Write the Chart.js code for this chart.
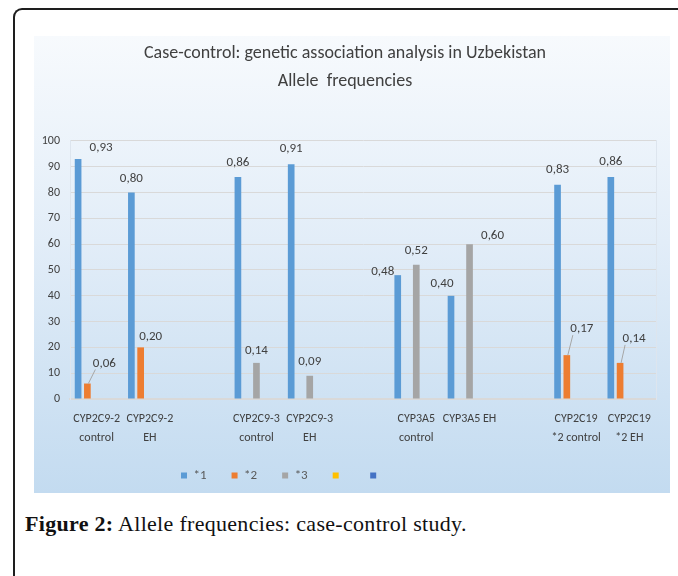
<!DOCTYPE html>
<html>
<head>
<meta charset="utf-8">
<script src="https://cdn.jsdelivr.net/npm/chart.js@4.4.1/dist/chart.umd.min.js"></script>
<style>
  html, body { margin: 0; padding: 0; background: #fff; }
  body { width: 678px; height: 576px; position: relative; overflow: hidden; }
  .frame {
    position: absolute; left: 13px; top: 8px; right: -20px; bottom: -20px;
    border-top: 2px solid #1e1e1e; border-left: 2px solid #1e1e1e;
    border-top-left-radius: 9px;
  }
  .panel {
    position: absolute; left: 34px; top: 36px; width: 636px; height: 457px;
    background: linear-gradient(to bottom, #f7fafd 0%, #e2edf8 45%, #c3dbf0 100%);
  }
  .caption {
    position: absolute; left: 25px; top: 510px;
    font-family: "Liberation Serif", "DejaVu Serif", serif;
    font-size: 22px; line-height: 28px; color: #111; letter-spacing: 0.3px;
  }
  .caption b { font-weight: bold; }
</style>
</head>
<body>
<div class="frame"></div>
<div class="panel"><canvas id="allele-chart" width="636" height="457"></canvas></div>
<div class="caption"><b>Figure 2:</b> Allele frequencies: case-control study.</div>
<script>
const categories = [
  ["CYP2C9-2", "control"], ["CYP2C9-2", "EH"], "",
  ["CYP2C9-3", "control"], ["CYP2C9-3", "EH"], "",
  ["CYP3A5", "control"], ["CYP3A5 EH"], "",
  ["CYP2C19", "*2 control"], ["CYP2C19", "*2 EH"]
];
const seriesNames = ["*1", "*2", "*3", "", ""];
const allele1 = [93, 80, null, 86, 91, null, 48, 40, null, 83, 86];
const allele2 = [6, 20, null, null, null, null, null, null, null, 17, 14];
const allele3 = [null, null, null, 14, 9, null, 52, 60, null, null, null];
const allele4 = [null, null, null, null, null, null, null, null, null, null, null];
const allele5 = [null, null, null, null, null, null, null, null, null, null, null];
const yTicks = [0, 10, 20, 30, 40, 50, 60, 70, 80, 90, 100];

const colors = ["#5b9bd5", "#ed7d31", "#a5a5a5", "#ffc000", "#4472c4"];
const fontFamily = "Carlito, 'Liberation Sans Narrow', 'Open Sans', sans-serif";

// label nudges (dx, dy from bar top), leader lines where Excel drew them
const labelNudge = {
  "0:0": [23, -11], "1:0": [17, -20, true],
  "0:1": [0, -14], "1:1": [10, -11],
  "0:3": [0, -14], "2:3": [0, -12],
  "0:4": [0, -15], "2:4": [0, -14],
  "0:6": [-15, -3], "2:6": [0, -14],
  "0:7": [-9, -12], "2:7": [23, -8],
  "0:9": [0, -15], "1:9": [15, -26, true],
  "0:10": [0, -15], "1:10": [14, -24, true]
};

const valueLabels = {
  id: "valueLabels",
  afterDatasetsDraw(chart) {
    const ctx = chart.ctx;
    ctx.save();
    ctx.font = "13px " + fontFamily;
    ctx.fillStyle = "#404040";
    ctx.textAlign = "center";
    ctx.textBaseline = "middle";
    chart.data.datasets.forEach((ds, di) => {
      chart.getDatasetMeta(di).data.forEach((bar, i) => {
        const v = ds.data[i];
        if (v == null) return;
        const n = labelNudge[di + ":" + i] || [0, -14];
        const lx = bar.x + n[0], ly = bar.y + n[1];
        if (n[2]) {
          ctx.strokeStyle = "#a6a6a6";
          ctx.lineWidth = 1;
          ctx.beginPath();
          ctx.moveTo(lx - 9, ly + 6);
          ctx.lineTo(bar.x + 1, bar.y);
          ctx.stroke();
        }
        ctx.fillText((v / 100).toFixed(2).replace(".", ","), lx, ly);
      });
    });
    ctx.restore();
  }
};

// Excel put the legend left of centre
const legendPad = 25;
const legendShift = {
  id: "legendShift",
  afterLayout(chart) {
    const lg = chart.legend;
    const dx = 147 - legendPad - lg.left;
    lg.left += dx;
    lg.right += dx;
  }
};

Chart.defaults.font.family = fontFamily;
Chart.defaults.color = "#404040";

const seriesData = [allele1, allele2, allele3, allele4, allele5];

new Chart(document.getElementById("allele-chart"), {
  type: "bar",
  data: {
    labels: categories,
    datasets: seriesData.map((d, k) => ({
      label: seriesNames[k],
      data: d,
      backgroundColor: colors[k],
      borderWidth: 0,
      barPercentage: 0.72,
      categoryPercentage: 0.87
    }))
  },
  options: {
    responsive: false,
    animation: false,
    layout: { padding: { left: 0, right: 14, top: 0, bottom: 1 } },
    plugins: {
      title: {
        display: true,
        text: ["Case-control: genetic association analysis in Uzbekistan", "Allele  frequencies"],
        color: "#404040",
        font: { size: 18, weight: "normal", lineHeight: 1.555 },
        padding: { top: 4, bottom: 45 }
      },
      legend: {
        position: "bottom",
        align: "start",
        labels: {
          boxWidth: 6,
          boxHeight: 6,
          padding: legendPad,
          color: "#595959",
          font: { size: 13 }
        }
      },
      tooltip: { enabled: false }
    },
    scales: {
      x: {
        grid: { display: false, drawTicks: false },
        border: { display: true, color: "#d9d9d9", width: 2 },
        ticks: { padding: 10, autoSkip: false, maxRotation: 0, font: { size: 12, lineHeight: 1.6 }, color: "#404040" },
        afterFit(scale) { scale.height = 45; }
      },
      y: {
        min: 0,
        max: 100,
        afterBuildTicks(scale) { scale.ticks = yTicks.map(v => ({ value: v })); },
        grid: { color: "#d9d9d9", drawTicks: false },
        border: { display: true, color: "#dde5ee" },
        ticks: { padding: 10, font: { size: 12 }, color: "#404040" },
        afterFit(scale) { scale.width = 36; }
      },
      yRight: {
        position: "right",
        min: 0,
        max: 100,
        grid: { display: false, drawTicks: false },
        border: { display: true, color: "#dde5ee" },
        ticks: { display: false },
        afterFit(scale) { scale.width = 0; }
      }
    }
  },
  plugins: [valueLabels, legendShift]
});
</script>
</body>
</html>
